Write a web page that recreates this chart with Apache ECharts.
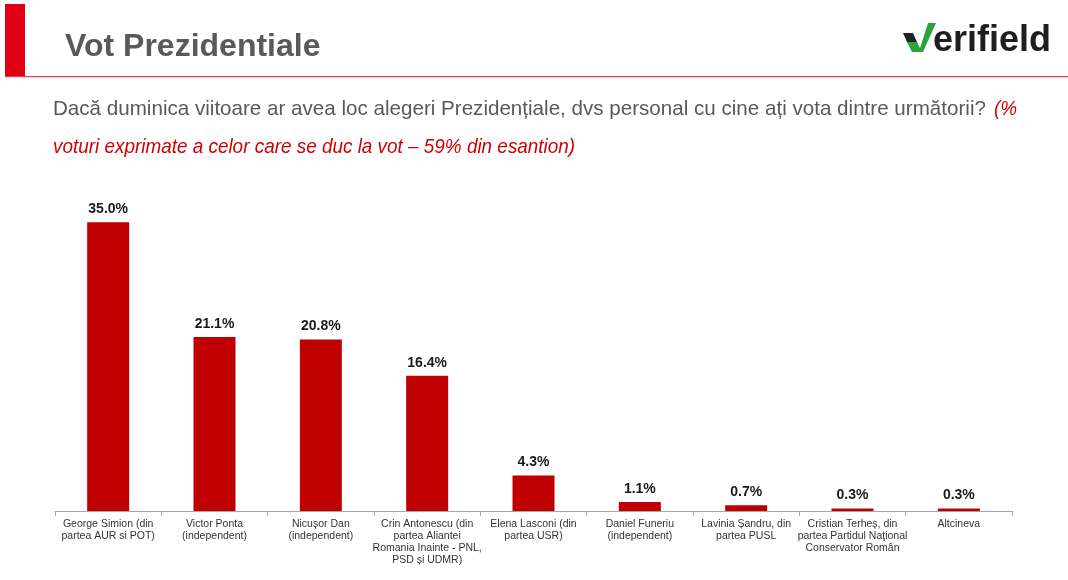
<!DOCTYPE html>
<html>
<head>
<meta charset="utf-8">
<script src="https://cdn.jsdelivr.net/npm/echarts@6/dist/echarts.min.js"></script>
<style>
  html, body { margin: 0; padding: 0; background: #fff; }
  #chart { width: 1068px; height: 580px; }
</style>
</head>
<body>
<div id="chart"></div>
<script>
  // candidati si procente
  const candidates = [
    'George Simion (din\npartea AUR si POT)',
    'Victor Ponta\n(independent)',
    'Nicușor Dan\n(independent)',
    'Crin Antonescu (din\npartea Aliantei\nRomania Inainte - PNL,\nPSD și UDMR)',
    'Elena Lasconi (din\npartea USR)',
    'Daniel Funeriu\n(independent)',
    'Lavinia Șandru, din\npartea PUSL',
    'Cristian Terheș, din\npartea Partidul Naţional\nConservator Român',
    'Altcineva'
  ];
  const votes = [35.0, 21.1, 20.8, 16.4, 4.3, 1.1, 0.7, 0.3, 0.3];

  const barColor = '#c00000';
  const textGray = '#595959';
  const redText = '#d00000';
  const font = 'Liberation Sans, Arial, sans-serif';

  const myChart = echarts.init(document.getElementById('chart'));

  const option = {
    animation: false,
    backgroundColor: '#fff',
    graphic: [
      // bara rosie + linia de sub titlu
      {
        type: 'rect',
        shape: { x: 5, y: 4, width: 20, height: 73 },
        style: { fill: '#e00016' }
      },
      {
        type: 'rect',
        shape: { x: 5, y: 76, width: 1063, height: 1.2 },
        style: { fill: '#d04a50' }
      },
      {
        type: 'text',
        x: 65,
        y: 47,
        style: {
          text: 'Vot Prezidentiale',
          font: 'bold 32px ' + font,
          fill: textGray,
          verticalAlign: 'middle'
        }
      },
      // logo Verifield
      {
        type: 'polygon',
        shape: { points: [[903, 33], [913, 33], [917, 42], [907, 42]] },
        style: { fill: '#222' }
      },
      {
        type: 'polygon',
        shape: { points: [[907, 42], [917, 42], [920, 48], [928, 23], [936, 23], [923, 52], [912, 52]] },
        style: { fill: '#2ba33a' }
      },
      {
        type: 'text',
        x: 933,
        y: 59,
        style: {
          text: 'erifield',
          font: 'bold 36px ' + font,
          fill: '#1e1e1e',
          verticalAlign: 'bottom'
        }
      },
      // intrebarea
      {
        type: 'text',
        x: 53,
        y: 109,
        style: {
          text: 'Dacă duminica viitoare ar avea loc alegeri Prezidențiale, dvs personal cu cine ați vota dintre următorii?',
          font: '20.6px ' + font,
          fill: textGray,
          verticalAlign: 'middle'
        }
      },
      {
        type: 'text',
        x: 994,
        y: 109,
        scaleX: 0.9,
        style: {
          text: '(%',
          font: 'italic 21px ' + font,
          fill: redText,
          verticalAlign: 'middle'
        }
      },
      {
        type: 'text',
        x: 53,
        y: 147,
        scaleX: 0.9,
        style: {
          text: 'voturi exprimate a celor care se duc la vot – 59% din esantion)',
          font: 'italic 21px ' + font,
          fill: redText,
          verticalAlign: 'middle'
        }
      }
    ],
    grid: {
      left: 55,
      right: 56,
      top: 181,
      bottom: 69,
      containLabel: false
    },
    xAxis: {
      type: 'category',
      data: candidates,
      axisLine: { show: true, lineStyle: { color: '#a6a6a6', width: 1 } },
      axisTick: { show: true, length: 5, lineStyle: { color: '#a6a6a6' } },
      axisLabel: {
        interval: 0,
        margin: 7,
        fontFamily: font,
        fontSize: 10.5,
        lineHeight: 12,
        color: '#333'
      }
    },
    yAxis: {
      type: 'value',
      min: 0,
      max: 40,
      show: false,
      splitLine: { show: false }
    },
    series: [{
      type: 'bar',
      data: votes,
      barWidth: 42,
      itemStyle: { color: barColor },
      label: {
        show: true,
        position: 'top',
        distance: 6,
        formatter: function(p) {
          return p.value.toFixed(1) + '%';
        },
        fontFamily: font,
        fontWeight: 'bold',
        fontSize: 14,
        color: '#1a1a1a'
      }
    }]
  };

  myChart.setOption(option);
</script>
</body>
</html>
